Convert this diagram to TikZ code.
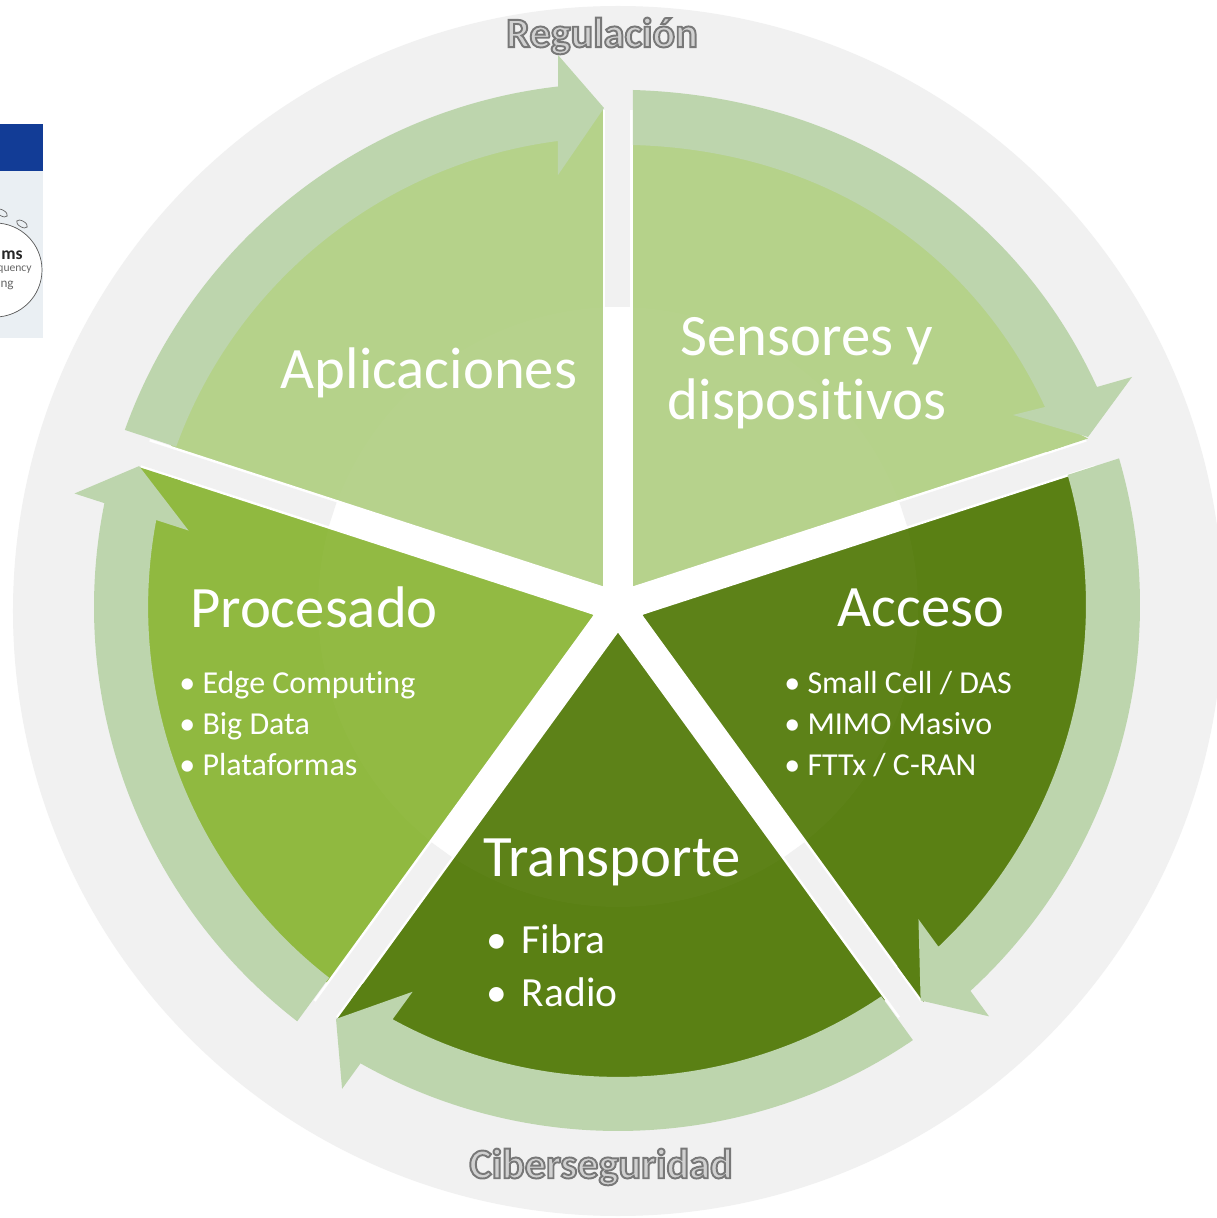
\documentclass[tikz,border=0pt]{standalone}
\usepackage{fontspec}
\setmainfont[Ligatures=NoCommon]{Carlito}
\definecolor{ringgray}{HTML}{F1F1F1}
\definecolor{arrowgreen}{HTML}{BDD5AD}
\definecolor{lightgreen}{HTML}{B5D28A}
\definecolor{midgreen}{HTML}{90B940}
\definecolor{darkgreen}{HTML}{5A8014}
\definecolor{logoblue}{HTML}{123C96}
\definecolor{logopanel}{HTML}{EAEFF3}
\tikzset{
  head/.style={text=white, inner sep=0pt, font=\fontsize{33.4}{36.4}\selectfont},
  sublist/.style={text=white, inner sep=0pt, anchor=west, font=\fontsize{18.2}{20}\selectfont},
  biglist/.style={text=white, inner sep=0pt, anchor=west, font=\fontsize{23.6}{26}\selectfont},
  outlined/.style={inner sep=0pt, text=black!18, font=\fontsize{24}{28}\selectfont\bfseries},
}
\newcommand{\outlinetext}[1]{\special{pdf:code 2 Tr 1.1 w 0.47 G}#1\special{pdf:code 0 Tr 0 G}}
\begin{document}
\begin{tikzpicture}[x=0.2mm,y=0.2mm]
  % page in pixels, centre of the pie at the origin
  \useasboundingbox (-618,607) rectangle (599,-611);
  \clip (-618,607) rectangle (599,-611);
  \fill[white] (-618,607) rectangle (599,-611);
  \fill[ringgray] (0,-4) circle (605);

  % logo cut off at the left edge
  \fill[logoblue] (-618,483) rectangle (-575,436);
  \fill[logopanel] (-618,436) rectangle (-575,269);
  \draw[black!65, fill=white] (-623,337) circle (47);
  \draw[black!60, rotate around={-30:(-616,394)}] (-616,394) ellipse (6 and 3);
  \draw[black!60, rotate around={-30:(-596,383)}] (-596,383) ellipse (6 and 3);
  \node[anchor=east, inner sep=0pt, font=\fontsize{10}{11}\selectfont\bfseries, text=black!85] (logoa) at (-595,352) {ms};
  \node[anchor=east, inner sep=0pt, font=\fontsize{6.6}{7}\selectfont, text=black!60] (logob) at (-586,337) {quency};
  \node[anchor=east, inner sep=0pt, font=\fontsize{7.5}{8}\selectfont, text=black!60] (logoc) at (-604,322) {ng};

  % five sectors
  \begin{scope}
    \clip (0,0) circle (475);
    \foreach \ang/\col in {126/lightgreen, 54/lightgreen, -18/darkgreen, -90/darkgreen, 198/midgreen} {
      \begin{scope}[rotate=\ang]
        \fill[\col] (25.5,0) -- (36:600) -- (-36:600) -- cycle;
      \end{scope}
    }
  \end{scope}
  % gaps: white near the centre
  \fill[white, opacity=0.02] (0,0) circle (300);
  \foreach \ang in {90,18,-54,-126,162} {
    \begin{scope}[rotate=\ang]
      \fill[white] (0,-15) rectangle (497,15);
      \fill[ringgray] (300,-12.5) rectangle (525,12.5);
    \end{scope}
  }
  \fill[white] (0,0) circle (26);

  % sector colour runs up to each arrow tip
  \foreach \k/\col in {0/lightgreen, 1/lightgreen, 2/darkgreen, 3/darkgreen, 4/midgreen} {
    \begin{scope}[rotate=-72*\k]
      \fill[\col] (-15,499) -- (-15,455) -- (-60,455) -- cycle;
    \end{scope}
  }

  % arrows round the pie
  \foreach \k/\sx/\sy in {0/0/0, 2/-2/2, 3/0/0, 4/0/0} {
    \begin{scope}[shift={(\sx,\sy)}, rotate=-72*\k]
      \fill[arrowgreen] (160.25:524) arc[start angle=160.25, end angle=96.57, radius=524]
        -- (-60,552) -- (-14,499) -- (-60,432) -- (-60,466)
        arc[start angle=97.33, end angle=160.05, radius=470] -- cycle;
    \end{scope}
  }
  \fill[arrowgreen] (15,517) .. controls (219,511) and (394,405) .. (479,220)
    -- (514,230) -- (470,170) -- (395,192) -- (427,200)
    .. controls (350,365) and (197,457) .. (15,462) -- cycle;

  \node[head] (aplicaciones) at (-189,234) {Aplicaciones};
  \node[head, align=center] (sensores) at (189,234) {Sensores y\\dispositivos};
  \node[head] (procesado) at (-304,0) {Procesado};
  \node[head] (acceso) at (303,-1) {Acceso};
  \node[head] (transporte) at (-6,-255) {Transporte};

  \node[sublist] (edge) at (-439,-78) {• Edge Computing};
  \node[sublist] (big) at (-439,-119) {• Big Data};
  \node[sublist] (plat) at (-439,-158) {• Plataformas};
  \node[sublist] (small) at (166,-76) {• Small Cell / DAS};
  \node[sublist] (mimo) at (166,-117) {• MIMO Masivo};
  \node[sublist] (fttx) at (166,-158) {• FTTx / C-RAN};
  \node[biglist] (fibra) at (-132,-332) {•\hspace{0.36em}Fibra};
  \node[biglist] (radio) at (-132,-385) {•\hspace{0.36em}Radio};

  \node[outlined] (regulacion) at (-16,571) {\outlinetext{Regulación}};
  \node[outlined] (ciber) at (-17,-560) {\outlinetext{Ciberseguridad}};
\end{tikzpicture}
\end{document}
